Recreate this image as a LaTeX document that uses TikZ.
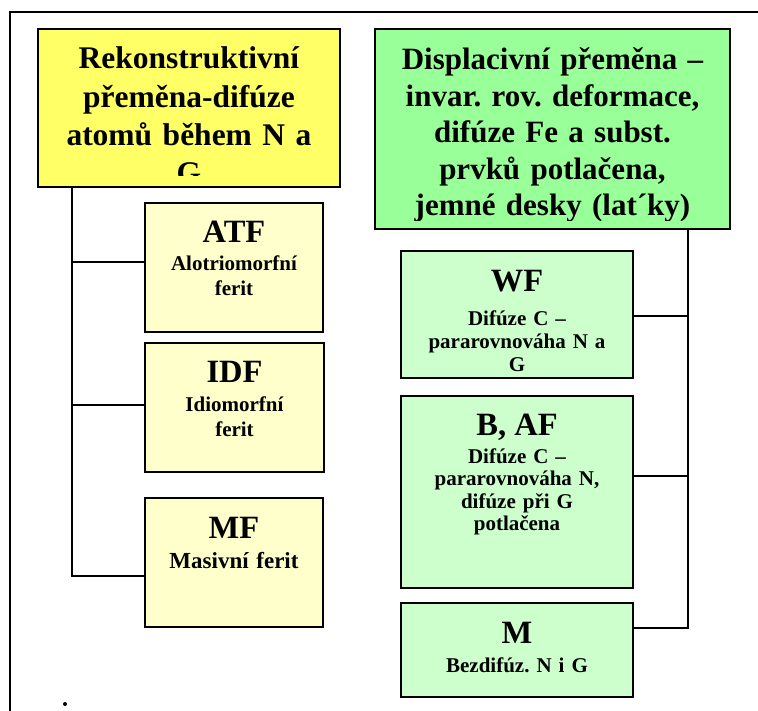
\documentclass[tikz,border=0pt]{standalone}
\usepackage{fontspec}
\setmainfont{Liberation Serif}
\frenchspacing
\usetikzlibrary{positioning, calc}
\definecolor{rekfill}{HTML}{FFFF66}
\definecolor{rekpale}{HTML}{FFFFCC}
\definecolor{dispfill}{HTML}{99FF99}
\definecolor{disppale}{HTML}{CCFFCC}
\tikzset{
box/.style={draw, line width=1.5pt, inner sep=0, rectangle},
title/.style={anchor=base, text width=360pt, align=center, inner sep=0, font=\fontsize{31.5}{38.3}\selectfont\bfseries},
head/.style={anchor=base, inner sep=0, font=\fontsize{32.5}{38}\selectfont\bfseries},
sub/.style={anchor=base, text width=230pt, align=center, inner sep=0, font=\fontsize{21}{25}\selectfont\bfseries},
subg/.style={sub, font=\fontsize{21}{22.6}\selectfont\bfseries},
conn/.style={line width=1.6pt}}
\begin{document}
\begin{tikzpicture}[x=1pt, y=-1pt]
\useasboundingbox (0,0) rectangle (758,711);
% frame
\draw[line width=1.3pt] (10,12) rectangle (790,740);
% main groups
\node[box, fill=rekfill, minimum width=302pt, minimum height=158pt] (rek) at (189,108) {};
\node[box, fill=dispfill, minimum width=355pt, minimum height=200pt] (disp) at (552.5,129) {};
\begin{scope}
\clip (rek.north west) rectangle ([yshift=12pt]rek.south east);
\node[title] (rek-t) at (189,69) {Rekonstruktivní\\přeměna-difúze\\atomů během N a\\G};
\end{scope}
\begin{scope}
\clip (disp.north west) rectangle ([yshift=9pt]disp.south east);
\node[title, font=\fontsize{31}{36.4}\selectfont\bfseries] (disp-t) at (552.5,70) {Displacivní přeměna –\\invar. rov. deformace,\\difúze Fe a subst.\\prvků potlačena,\\jemné desky (lat´ky)};
\end{scope}
% left boxes
\node[box, fill=rekpale, minimum width=178pt, minimum height=129pt] (atf) at (234,267.5) {};
\node[box, fill=rekpale, minimum width=179pt, minimum height=129pt] (idf) at (234.5,407.5) {};
\node[box, fill=rekpale, minimum width=178pt, minimum height=129pt] (mf) at (234,562.5) {};
\node[head] (atf-h) at (234,243) {ATF};
\node[sub] (atf-s) at (234,271) {Alotriomorfní\\ferit};
\node[head] (idf-h) at (234.5,383) {IDF};
\node[sub] (idf-s) at (234.5,411) {Idiomorfní\\ferit};
\node[head] (mf-h) at (234,538) {MF};
\node[sub, font=\fontsize{23}{27}\selectfont\bfseries] (mf-s) at (234,568) {Masivní ferit};
% right boxes
\node[box, fill=disppale, minimum width=232pt, minimum height=127pt] (wf) at (517,314.5) {};
\node[box, fill=disppale, minimum width=232pt, minimum height=192pt] (baf) at (517,492) {};
\node[box, fill=disppale, minimum width=232pt, minimum height=94pt] (m) at (517,650) {};
\node[head] (wf-h) at (517,292) {WF};
\node[subg] (wf-s) at (517,326) {Difúze C –\\pararovnováha N a\\G};
\node[head] (baf-h) at (517,435) {B, AF};
\node[subg] (baf-s) at (517,463) {Difúze C –\\pararovnováha N,\\difúze při G\\potlačena};
\node[head] (m-h) at (517,643) {M};
\node[subg] (m-s) at (517,672) {Bezdifúz. N i G};
% connectors
\coordinate (ltrunk) at (72,0);
\coordinate (rtrunk) at (688,0);
\coordinate (atf-in) at ([yshift=5.5pt]atf.west);
\coordinate (idf-in) at ([yshift=2.5pt]idf.west);
\coordinate (mf-in) at ([yshift=-13.5pt]mf.west);
\coordinate (wf-in) at ([yshift=-1.5pt]wf.east);
\coordinate (baf-in) at ([yshift=16pt]baf.east);
\coordinate (m-in) at ([yshift=22pt]m.east);
\draw[conn] (rek.south -| ltrunk) |- (mf-in);
\draw[conn] (atf-in -| ltrunk) -- (atf-in);
\draw[conn] (idf-in -| ltrunk) -- (idf-in);
\draw[conn] (disp.south -| rtrunk) |- (m-in);
\draw[conn] (wf-in -| rtrunk) -- (wf-in);
\draw[conn] (baf-in -| rtrunk) -- (baf-in);
\fill (65,704) circle (2pt);
\end{tikzpicture}
\end{document}
